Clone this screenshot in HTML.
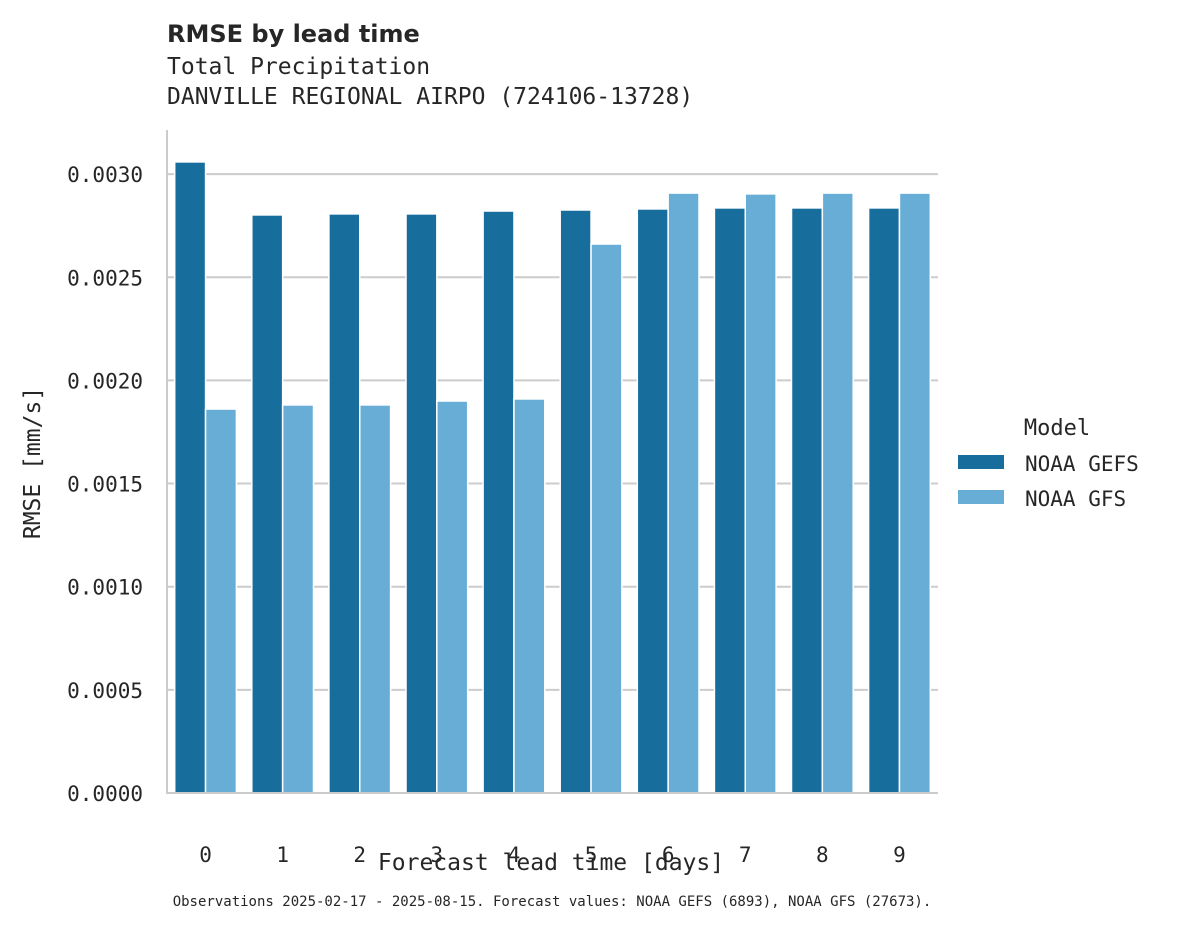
<!DOCTYPE html>
<html><head><meta charset="utf-8"><style>
body{margin:0;background:#fff;width:1178px;height:928px;overflow:hidden}
text{font-family:"DejaVu Sans Mono","Liberation Mono",monospace;fill:#262626}
</style></head><body>
<svg id="chart" width="1178" height="928" xmlns="http://www.w3.org/2000/svg">
<text x="167" y="42" font-size="24" font-weight="bold" style="font-family:'DejaVu Sans','Liberation Sans',sans-serif">RMSE by lead time</text>
<text x="167" y="74" font-size="23">Total Precipitation</text>
<text x="167" y="104" font-size="23">DANVILLE REGIONAL AIRPO (724106-13728)</text>
<g id="grid"></g><g id="bars"></g><g id="axes"></g>
<text x="551" y="870" font-size="23" text-anchor="middle">Forecast lead time [days]</text>
<text x="40" y="463" font-size="23" text-anchor="middle" transform="rotate(-90 40 463)">RMSE [mm/s]</text>
<g>
<text x="1057" y="435" font-size="22" text-anchor="middle">Model</text>
<rect x="958" y="455" width="46" height="14" fill="#176d9c"/>
<text x="1025" y="471" font-size="21">NOAA GEFS</text>
<rect x="958" y="490" width="46" height="14" fill="#67add6"/>
<text x="1025" y="506" font-size="21">NOAA GFS</text>
</g>
<text x="552" y="906" font-size="14" text-anchor="middle">Observations 2025-02-17 - 2025-08-15. Forecast values: NOAA GEFS (6893), NOAA GFS (27673).</text>
</svg>
<script>
const categories=["0","1","2","3","4","5","6","7","8","9"];
const gefsValues=[0.003059,0.002802,0.002807,0.002807,0.002821,0.002826,0.002831,0.002836,0.002836,0.002836];
const gfsValues=[0.001861,0.001881,0.001881,0.0019,0.00191,0.002661,0.002908,0.002904,0.002908,0.002908];
const yTicks=[0,0.0005,0.001,0.0015,0.002,0.0025,0.003];
const yTickLabels=["0.0000","0.0005","0.0010","0.0015","0.0020","0.0025","0.0030"];
const NS="http://www.w3.org/2000/svg";
const X0=167,X1=938,Y0=793,pxPer=206.3/0.001;
const y=v=>Y0-v*pxPer;
const band=(X1-X0)/categories.length;
const x=i=>X0+band*i;
function mk(tag,attrs,parent){const e=document.createElementNS(NS,tag);for(const k in attrs)e.setAttribute(k,attrs[k]);document.getElementById(parent).appendChild(e);return e;}
yTicks.forEach((t,i)=>{
 if(t>0){const g=mk('line',{x1:X0,x2:X1,y1:y(t),y2:y(t),stroke:'#cccccc','stroke-width':2},'grid');
 
 }
 const l=mk('text',{x:143,y:y(t)+8,'font-size':21,'text-anchor':'end'},'axes');l.textContent=yTickLabels[i];
 
 
});
categories.forEach((c,i)=>{
 const bw=band*0.4;
 const a=mk('rect',{x:x(i)+band*0.1,y:y(gefsValues[i]),width:bw,height:Y0-y(gefsValues[i]),fill:'#176d9c',stroke:'#fff','stroke-width':1.5},'bars');
 
 
 const b=mk('rect',{x:x(i)+band*0.5,y:y(gfsValues[i]),width:bw,height:Y0-y(gfsValues[i]),fill:'#67add6',stroke:'#fff','stroke-width':1.5},'bars');
 
 
 const t=mk('text',{x:x(i)+band/2,y:863-2-4+0,'font-size':21,'text-anchor':'middle'},'axes');t.setAttribute('y',862);t.textContent=c;
 
 
});
const ls=mk('line',{x1:X0,x2:X0,y1:130,y2:Y0+1,stroke:'#cccccc','stroke-width':2},'axes');


const bs=mk('line',{x1:X0-1,x2:X1,y1:Y0,y2:Y0,stroke:'#cccccc','stroke-width':2},'axes');


</script>
</body></html>
